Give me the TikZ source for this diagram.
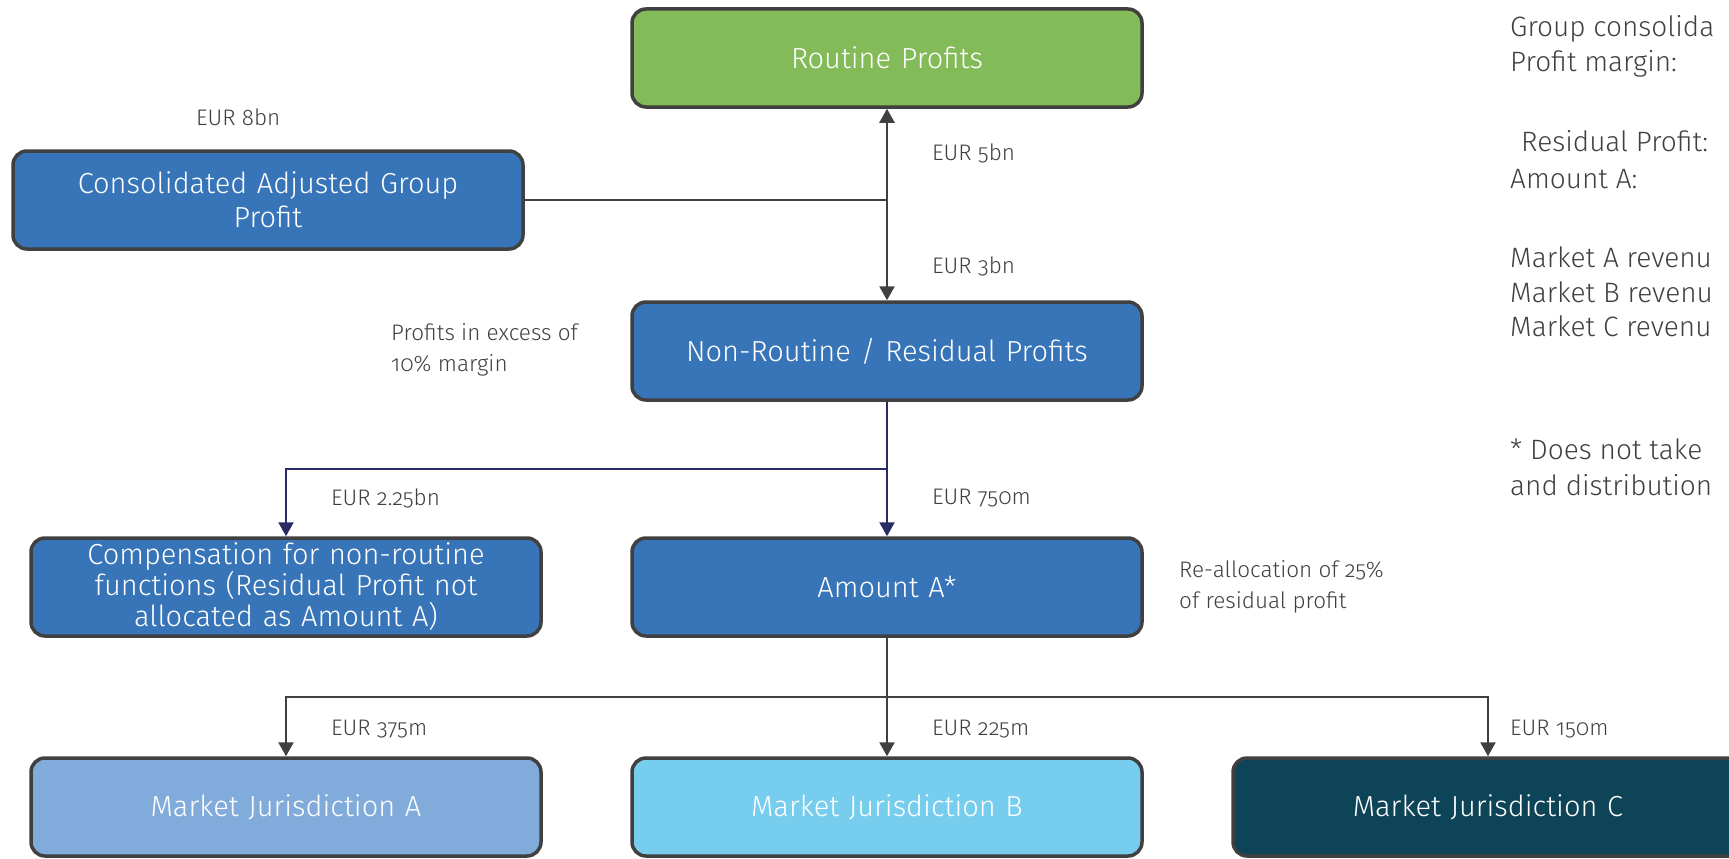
\documentclass[tikz,border=0pt]{standalone}
\usepackage{fontspec}
\setmainfont{Fira Sans Light}[Numbers=OldStyle]
\usetikzlibrary{arrows.meta}

\definecolor{boxline}{HTML}{404040}
\definecolor{routinegreen}{HTML}{84BB59}
\definecolor{profitblue}{HTML}{3875B8}
\definecolor{marketa}{HTML}{80ABDA}
\definecolor{marketb}{HTML}{76CDEE}
\definecolor{marketc}{HTML}{0E4457}
\definecolor{navy}{HTML}{272C66}
\definecolor{labelgray}{HTML}{404040}

\begin{document}
\begin{tikzpicture}[x=1pt, y=-1pt,
  box/.style={draw=boxline, line width=3.5pt, rounded corners=14pt,
    minimum width=510pt, minimum height=98pt, text width=490pt,
    align=center, text=white, font=\fontsize{29}{34}\selectfont},
  link/.style={draw=boxline, line width=2.5pt},
  navylink/.style={draw=navy, line width=2.5pt},
  tip/.style={-{Triangle[length=14pt,width=15pt]}},
  lbl/.style={anchor=west, text=labelgray, inner sep=0pt, align=left,
    font=\fontsize{22.5}{31}\selectfont},
  note/.style={anchor=west, text=labelgray, inner sep=0pt,
    font=\fontsize{28}{32}\selectfont}]
  \useasboundingbox (0,0) rectangle (1729,859);

  % boxes
  \node[box, fill=routinegreen] (routine) at (887,58) {Routine Profits};
  \node[box, fill=profitblue] (cagp) at (268,200) {Consolidated Adjusted Group\\Profit};
  \node[box, fill=profitblue] (residual) at (887,351) {Non-Routine / Residual Profits};
  \node[box, fill=profitblue, inner sep=1pt, font=\fontsize{29}{31}\selectfont] (comp) at (286,587)
    {Compensation for non-routine\\functions (Residual Profit not\\allocated as Amount A)};
  \node[box, fill=profitblue] (amounta) at (887,587) {Amount A*};
  \node[box, fill=marketa] (mja) at (286,807) {Market Jurisdiction A};
  \node[box, fill=marketb] (mjb) at (887,807) {Market Jurisdiction B};
  \node[box, fill=marketc] (mjc) at (1488,807) {Market Jurisdiction C};

  % connectors
  \draw[link] (cagp.east) -- (cagp.east -| routine.south);
  \draw[link, {Triangle[length=14pt,width=15pt]}-{Triangle[length=14pt,width=15pt]}]
    (routine.south) -- (residual.north);
  \coordinate (fork) at (887,469);
  \draw[navylink] (residual.south) -- (fork);
  \draw[navylink, tip] (fork) -| (comp.north);
  \draw[navylink, tip] (fork) -- (amounta.north);
  \coordinate (split) at (887,697);
  \draw[link] (amounta.south) -- (split);
  \draw[link, tip] (split) -| (mja.north);
  \draw[link, tip] (split) -- (mjb.north);
  \draw[link, tip] (split) -| (mjc.north);

  % amounts
  \node[lbl] (l8bn) at (196,117) {EUR 8bn};
  \node[lbl] (l5bn) at (932,153) {EUR 5bn};
  \node[lbl] (l3bn) at (932,266) {EUR 3bn};
  \node[lbl] (excess) at (391,350) {Profits in excess of\\10\% margin};
  \node[lbl] (l225bn) at (331,498) {EUR 2.25bn};
  \node[lbl] (l750m) at (932,498) {EUR 750m};
  \node[lbl] (realloc) at (1179,587) {Re-allocation of 25\%\\of residual profit};
  \node[lbl] (l375m) at (331,729) {EUR 375m};
  \node[lbl] (l225m) at (932,729) {EUR 225m};
  \node[lbl] (l150m) at (1510,729) {EUR 150m};

  % notes on the right
  \node[note] (n1) at (1510,29) {Group consolida};
  \node[note] (n2) at (1510,64) {Profit margin:};
  \node[note] (n3) at (1521,141) {Residual Profit:};
  \node[note] (n4) at (1510,179) {Amount A:};
  \node[note] (n5) at (1510,257) {Market A revenu};
  \node[note] (n6) at (1510,292) {Market B revenu};
  \node[note] (n7) at (1510,326) {Market C revenu};
  \node[note] (n8) at (1510,449) {* Does not take};
  \node[note] (n9) at (1510,485) {and distribution};
\end{tikzpicture}
\end{document}
